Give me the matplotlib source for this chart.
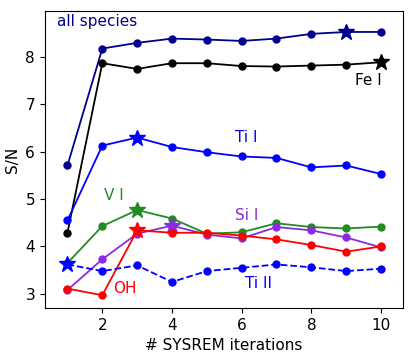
import numpy as np
import matplotlib.pyplot as plt

iters = np.arange(1, 11)

sn_all = [5.71, 8.18, 8.30, 8.39, 8.37, 8.34, 8.39, 8.49, 8.53, 8.53]
sn_fe1 = [4.29, 7.87, 7.75, 7.87, 7.87, 7.81, 7.80, 7.82, 7.84, 7.89]
sn_ti1 = [4.55, 6.13, 6.30, 6.10, 5.99, 5.90, 5.87, 5.67, 5.71, 5.53]
sn_v1 = [3.65, 4.43, 4.77, 4.59, 4.27, 4.30, 4.49, 4.41, 4.38, 4.42]
sn_si1 = [3.08, 3.73, 4.27, 4.44, 4.25, 4.17, 4.41, 4.34, 4.19, 3.98]
sn_oh = [3.11, 2.97, 4.34, 4.29, 4.29, 4.23, 4.15, 4.03, 3.89, 4.00]
sn_ti2 = [3.62, 3.48, 3.60, 3.25, 3.48, 3.55, 3.62, 3.56, 3.48, 3.53]

species = ['all species', 'Fe I', 'Ti I', 'V I', 'Si I', 'OH', 'Ti II']
values = [sn_all, sn_fe1, sn_ti1, sn_v1, sn_si1, sn_oh, sn_ti2]
colors = ['darkblue', 'black', 'blue', 'forestgreen', 'blueviolet', 'red', 'blue']
styles = ['-', '-', '-', '-', '-', '-', '--']
# where the labels go
lab_xy = [(0.7, 8.65), (9.25, 7.42), (5.8, 6.2), (2.05, 4.98), (5.8, 4.56), (2.3, 3.02), (6.1, 3.13)]

fig = plt.figure(figsize=(4.15, 3.59), dpi=100)
ax = fig.add_axes([0.108, 0.142, 0.863, 0.827])

for name, y, c, ls, (tx, ty) in zip(species, values, colors, styles, lab_xy):
    ax.plot(iters, y, ls, color=c, marker='o', ms=5, lw=1.3)
    i = int(np.argmax(y))
    ax.plot(iters[i], y[i], '*', color=c, ms=12)
    ax.text(tx, ty, name, color=c, fontsize=11)

ax.set_xlim(0.35, 10.63)
ax.set_ylim(2.7, 8.97)
ax.set_xticks([2, 4, 6, 8, 10])
ax.set_yticks([3, 4, 5, 6, 7, 8])
ax.tick_params(labelsize=11)
ax.set_xlabel('# SYSREM iterations', fontsize=11)
ax.set_ylabel('S/N', fontsize=11)

fig.savefig('out.png', dpi=100)
